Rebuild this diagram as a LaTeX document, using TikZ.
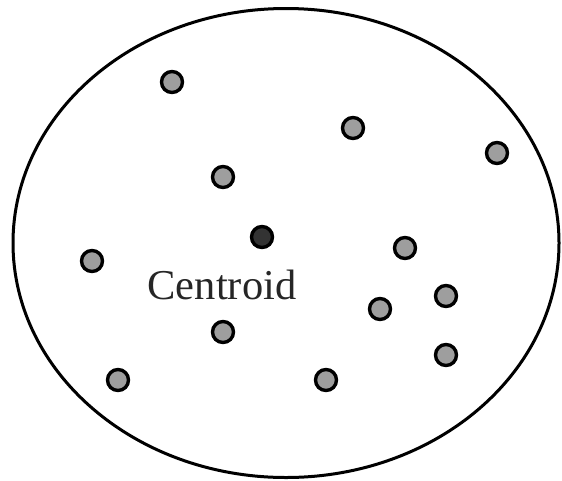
\documentclass[tikz,border=0pt]{standalone}
\usepackage{fontspec}
\setmainfont{Liberation Serif}
\usetikzlibrary{shapes.geometric}
\definecolor{ptgray}{gray}{0.62}
\definecolor{ctgray}{gray}{0.20}
\tikzset{
  pt/.style={circle, draw=black, line width=3.4pt, fill=ptgray, minimum size=21pt, inner sep=0pt},
  ct/.style={pt, fill=ctgray}
}
\begin{document}
\begin{tikzpicture}[x=1pt, y=-1pt]
  \useasboundingbox (0,0) rectangle (562,480);

  % --- Cluster boundary ---
  \node[draw=black, line width=3pt, ellipse, minimum width=546pt, minimum height=469pt, inner sep=0pt] (cluster) at (286,243) {};

  % --- Data points ---
  \foreach \px/\py [count=\i] in {172/82, 353/128, 497/153, 223/177, 405/248, 92/261,
                                 446/296, 380/309, 223/332, 446/355, 118/380, 326/380}
    \node[pt] (p\i) at (\px,\py) {};

  % --- Centroid ---
  \node[ct] (cen) at (262,237) {};
  \node[font=\fontsize{42.5}{45}\selectfont, text=black!85] (cenlabel) at (222,285) {Centroid};
\end{tikzpicture}
\end{document}
